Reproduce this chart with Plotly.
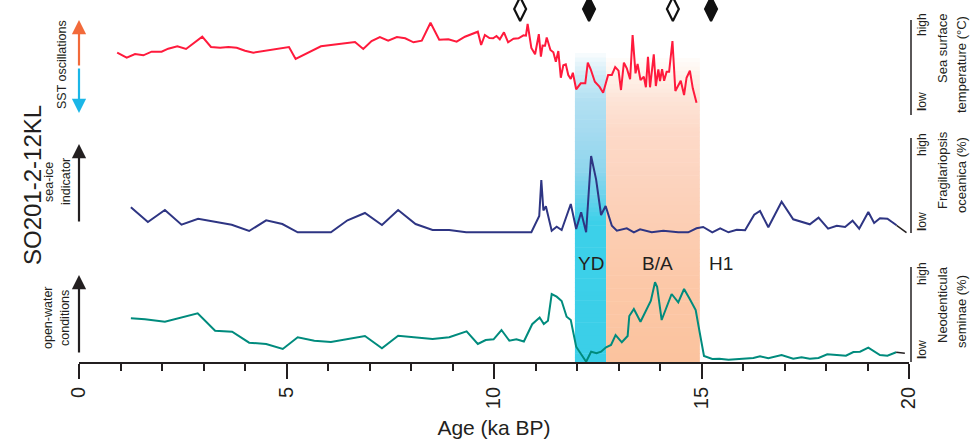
import plotly.graph_objects as go

# ---------------- data (ages in ka BP, values in relative units) ----------------
sst_age = [0.92, 1.15, 1.35, 1.55, 1.75, 1.99, 2.15, 2.37, 2.58, 2.97, 3.18, 3.40, 3.60, 3.80, 4.00, 4.20,
           5.06, 5.22, 5.83, 6.65, 6.85, 7.05, 7.25, 7.45, 7.66, 7.86, 8.06, 8.26, 8.47, 8.68, 8.90, 9.10,
           9.30, 9.61, 9.69, 9.78, 9.89, 9.98, 10.06, 10.14, 10.24, 10.34, 10.47, 10.59, 10.71, 10.77,
           10.81, 10.90, 10.99, 11.08, 11.13, 11.17, 11.23, 11.27, 11.36, 11.43, 11.49, 11.55, 11.61,
           11.67, 11.73, 11.79, 11.85, 11.90, 11.98, 12.09, 12.20, 12.26, 12.33, 12.43, 12.54, 12.63,
           12.75, 12.84, 12.92, 13.00, 13.06, 13.13, 13.20, 13.28, 13.34, 13.41, 13.46, 13.53, 13.61,
           13.66, 13.71, 13.76, 13.85, 13.90, 13.96, 14.00, 14.05, 14.10, 14.16, 14.22, 14.30, 14.37,
           14.50, 14.58, 14.64, 14.72, 14.79, 14.88]
sst_val = [65.3, 60.3, 64.0, 62.7, 66.3, 66.3, 69.3, 71.7, 69.0, 81.3, 71.0, 70.3, 71.0, 70.3, 67.3, 65.3,
           71.0, 59.0, 71.7, 76.0, 69.0, 77.0, 81.0, 77.3, 81.0, 79.7, 75.7, 77.3, 95.3, 78.3, 78.7, 76.3,
           81.3, 86.3, 73.0, 83.0, 80.0, 79.7, 82.0, 78.7, 85.7, 75.7, 79.3, 79.7, 82.7, 82.3,
           94.2, 70.0, 63.7, 83.8, 61.3, 72.5, 72.3, 80.5, 68.0, 65.7, 56.3, 67.0, 40.3,
           52.7, 53.7, 43.0, 39.0, 45.3, 28.7, 34.7, 34.7, 55.3, 48.7, 36.3, 31.3, 25.3,
           43.0, 43.0, 51.0, 47.3, 28.0, 55.3, 49.7, 38.7, 83.0, 44.7, 54.0, 38.0, 41.3,
           30.7, 61.3, 30.7, 63.7, 32.0, 48.7, 37.0, 48.7, 37.3, 46.3, 46.3, 77.0, 27.0,
           37.3, 23.0, 40.3, 47.3, 29.7, 15.3]

frag_age = [1.25, 1.66, 2.07, 2.47, 2.87, 3.68, 4.10, 4.51, 4.90, 5.27, 6.07, 6.47, 6.89, 7.30, 7.69, 8.11,
            8.52, 8.92, 9.33, 10.90, 11.09, 11.14, 11.19, 11.25, 11.39, 11.51, 11.63, 11.85, 11.98, 12.10,
            12.22, 12.34, 12.46, 12.58, 12.69, 12.84, 12.96, 13.20, 13.37, 13.52, 13.80, 14.08, 14.44,
            14.68, 14.88, 15.04, 15.26, 15.45, 15.65, 15.85, 16.05, 16.27, 16.41, 16.61, 16.93, 17.21,
            17.61, 17.82, 18.05, 18.26, 18.46, 18.64, 18.80, 19.02, 19.16, 19.30, 19.48, 19.70, 19.94]
frag_val = [26.7, 12.0, 24.0, 9.3, 15.3, 9.3, 3.0, 13.7, 10.0, 1.7, 1.7, 13.7, 21.0, 9.0, 24.0, 10.0,
            4.0, 4.0, 1.7, 1.7, 18.0, 54.0, 23.5, 27.7, 3.3, 7.3, 4.0, 30.0, 5.0, 21.7,
            1.7, 78.0, 54.7, 19.0, 28.0, 8.3, 3.3, 5.7, 1.7, 4.7, 1.7, 3.3, 1.7,
            1.7, 5.7, 7.0, 1.7, 5.7, 1.7, 4.3, 3.7, 19.3, 23.0, 6.7, 32.3, 14.7,
            9.7, 16.3, 5.3, 8.3, 7.0, 13.3, 5.3, 22.0, 11.0, 15.7, 15.3, 8.7, 1.3]

neo_age = [1.25, 1.59, 2.07, 2.86, 3.28, 3.69, 4.10, 4.51, 4.91, 5.27, 5.67, 6.07, 6.89, 7.30, 7.69, 8.52,
           8.92, 9.34, 9.61, 9.80, 9.99, 10.18, 10.37, 10.54, 10.72, 10.92, 11.10, 11.20, 11.30, 11.39,
           11.51, 11.63, 11.75, 11.85, 11.98, 12.22, 12.34, 12.47, 12.58, 12.70, 12.82, 12.93, 13.08,
           13.22, 13.26, 13.37, 13.53, 13.68, 13.78, 13.88, 13.93, 14.04, 14.16, 14.28, 14.44, 14.58,
           14.72, 14.86, 14.96, 15.06, 15.26, 15.43, 15.65, 15.85, 16.09, 16.25, 16.41, 16.61, 16.93,
           17.21, 17.41, 17.61, 17.82, 18.03, 18.26, 18.48, 18.66, 18.82, 19.02, 19.14, 19.30, 19.48,
           19.69, 19.90]
neo_val = [43.7, 42.7, 40.3, 48.7, 31.3, 30.3, 19.3, 18.0, 13.0, 24.7, 21.3, 20.0, 26.0, 13.7, 26.3, 23.0,
           24.7, 30.7, 18.0, 22.0, 22.7, 32.0, 21.3, 22.8, 20.5, 37.8, 44.5, 38.0, 41.2, 68.0,
           65.3, 61.0, 45.3, 42.0, 15.3, 0.3, 10.3, 8.7, 10.3, 14.7, 17.0, 27.0, 19.7,
           26.0, 46.0, 53.0, 40.3, 52.0, 61.3, 79.7, 75.3, 42.0, 55.3, 68.0, 59.7, 73.0,
           62.7, 52.0, 28.7, 6.0, 3.0, 3.3, 2.3, 3.0, 3.3, 4.0, 5.7, 3.7, 7.0,
           3.3, 4.7, 3.3, 4.0, 7.7, 7.0, 6.3, 10.0, 10.3, 14.3, 11.3, 7.0, 6.3,
           9.7, 8.7]

dating_age = [10.63, 12.29, 14.31, 15.23]
dating_filled = [False, True, False, True]

periods = ["YD", "B/A", "H1"]
period_start = [11.95, 12.70]
period_end = [12.70, 14.96]
period_label_age = [12.34, 13.93, 15.47]

x_ticks = [0, 5, 10, 15, 20]

# ---------------- layout helpers (pixel geometry) ----------------
W, H = 974, 441
L, R, T, B = 79, 65, 0, 79
PW, PH = W - L - R, H - T - B


def px(xp):
    return (xp - L) / PW


def py(yp):
    return (H - B - yp) / PH


FONT = "Liberation Sans, Arial, Helvetica, sans-serif"

fig = go.Figure()

# SST
fig.add_trace(go.Scatter(x=sst_age, y=sst_val, mode="lines", line=dict(color="#FF1A3C", width=2),
                         yaxis="y", showlegend=False, hoverinfo="skip"))
# Fragilariopsis
fig.add_trace(go.Scatter(x=frag_age[:-1], y=frag_val[:-1], mode="lines", line=dict(color="#2E3583", width=2),
                         yaxis="y2", showlegend=False, hoverinfo="skip"))
fig.add_trace(go.Scatter(x=frag_age[-2:], y=frag_val[-2:], mode="lines", line=dict(color="#231F20", width=1.5),
                         yaxis="y2", showlegend=False, hoverinfo="skip"))
# Neodenticula
fig.add_trace(go.Scatter(x=neo_age[:-1], y=neo_val[:-1], mode="lines", line=dict(color="#008B7D", width=2),
                         yaxis="y3", showlegend=False, hoverinfo="skip"))
fig.add_trace(go.Scatter(x=neo_age[-2:], y=neo_val[-2:], mode="lines", line=dict(color="#231F20", width=1.5),
                         yaxis="y3", showlegend=False, hoverinfo="skip"))

# dating markers
for a, f in zip(dating_age, dating_filled):
    fig.add_trace(go.Scatter(x=[a], y=[109], mode="markers", yaxis="y", cliponaxis=False,
                             marker=dict(symbol="diamond-tall" if f else "diamond-tall-open", size=17,
                                         color="#111111", line=dict(color="#111111", width=2.2)),
                             showlegend=False, hoverinfo="skip"))

# ---------------- gradient bands ----------------
def interp(stops, yv):
    for (y0, c0), (y1, c1) in zip(stops[:-1], stops[1:]):
        if y0 <= yv <= y1:
            t = (yv - y0) / (y1 - y0) if y1 > y0 else 0
            return tuple(int(round(c0[i] + (c1[i] - c0[i]) * t)) for i in range(3))
    return stops[-1][1]


yd_stops = [(53, (250, 253, 254)), (75, (208, 236, 247)), (100, (178, 224, 242)), (130, (166, 219, 240)),
            (170, (143, 214, 237)), (200, (100, 210, 235)), (222, (60, 208, 233)), (362, (59, 207, 232))]
ba_stops = [(58, (255, 253, 251)), (80, (254, 240, 231)), (100, (253, 228, 215)), (130, (253, 218, 201)),
            (200, (252, 209, 186)), (280, (252, 200, 168)), (362, (251, 195, 158))]

shapes = []
N = 70
for (x0, x1), stops in zip(zip(period_start, period_end), [yd_stops, ba_stops]):
    top, bot = stops[0][0], 362
    step = (bot - top) / N
    for i in range(N):
        ya = top + i * step
        yb = ya + step + 0.6
        c = interp(stops, ya + step / 2)
        shapes.append(dict(type="rect", xref="x", yref="paper", x0=x0, x1=x1, y0=py(min(yb, 362)), y1=py(ya),
                           fillcolor="rgb(%d,%d,%d)" % c, line=dict(width=0), layer="below"))

# right scale bars
for y_top, y_bot in [(20, 115), (138, 233), (267, 362)]:
    shapes.append(dict(type="line", xref="paper", yref="paper", x0=px(911), x1=px(911),
                       y0=py(y_bot), y1=py(y_top), line=dict(color="#231F20", width=1.5)))

annotations = []


def text(xp, yp, s, size, angle=-90, color="#231F20"):
    annotations.append(dict(x=px(xp), y=py(yp), xref="paper", yref="paper", text=s, showarrow=False,
                            textangle=angle, font=dict(size=size, color=color, family=FONT),
                            xanchor="center", yanchor="middle"))


# period labels
for lab, a in zip(periods, period_label_age):
    annotations.append(dict(x=a, y=py(263), xref="x", yref="paper", text=lab, showarrow=False,
                            font=dict(size=19, color="#231F20", family=FONT), xanchor="center", yanchor="middle"))

# left labels
text(32, 185, "SO201-2-12KL", 24)
text(62, 65, "SST oscillations", 12.5)
text(49, 182, "sea-ice", 12.5)
text(66, 182, "indicator", 12.5)
text(48, 318, "open-water", 12.5)
text(65, 318, "conditions", 12.5)

# right labels
for hy, ly in [(24, 101), (144, 221), (273, 349)]:
    text(922, hy, "high", 12)
    text(922, ly, "<b>l</b>ow", 12)
text(942, 49, "Sea surface", 13)
text(961, 65, "temperature (°C)", 13)
text(942, 170, "Fragilariopsis", 13)
text(961, 175, "oceanica (%)", 13)
text(942, 305, "Neodenticula", 13)
text(961, 312, "seminae (%)", 13)

# arrows
def arrow(y_tip, y_tail, color):
    annotations.append(dict(x=px(79), y=py(y_tip), xref="paper", yref="paper", ax=0, ay=y_tail - y_tip,
                            axref="pixel", ayref="pixel", showarrow=True, arrowhead=2, arrowsize=1.3,
                            arrowwidth=2.2, arrowcolor=color, text=""))


arrow(20, 67, "#F26A3A")
arrow(113, 67, "#1BB6E7")
arrow(144, 223, "#231F20")
arrow(275, 354, "#231F20")

fig.update_layout(
    width=W, height=H, margin=dict(l=L, r=R, t=T, b=B),
    paper_bgcolor="white", plot_bgcolor="rgba(0,0,0,0)",
    font=dict(family=FONT, color="#231F20"),
    shapes=shapes, annotations=annotations,
    xaxis=dict(range=[0, 20], domain=[0, 1], tickvals=x_ticks, ticktext=[str(t) for t in x_ticks],
               ticks="outside", ticklen=15, tickwidth=1.5, tickcolor="#231F20",
               showline=True, linecolor="#231F20", linewidth=1.8, showgrid=False, zeroline=False,
               tickangle=-90, tickfont=dict(size=20, family=FONT, color="#231F20"),
               minor=dict(dtick=1, tick0=0, ticks="outside", ticklen=7, tickwidth=1.5, tickcolor="#231F20",
                          showgrid=False),
               title=dict(text="Age (ka BP)", font=dict(size=21, family=FONT, color="#231F20"), standoff=12),
               anchor="y3"),
    yaxis=dict(domain=[py(118), 1], range=[0, 118], visible=False, fixedrange=True),
    yaxis2=dict(domain=[py(234), py(130)], range=[0, 104], visible=False),
    yaxis3=dict(domain=[0, py(262)], range=[0, 100], visible=False),
)

fig.write_html("out.html")
